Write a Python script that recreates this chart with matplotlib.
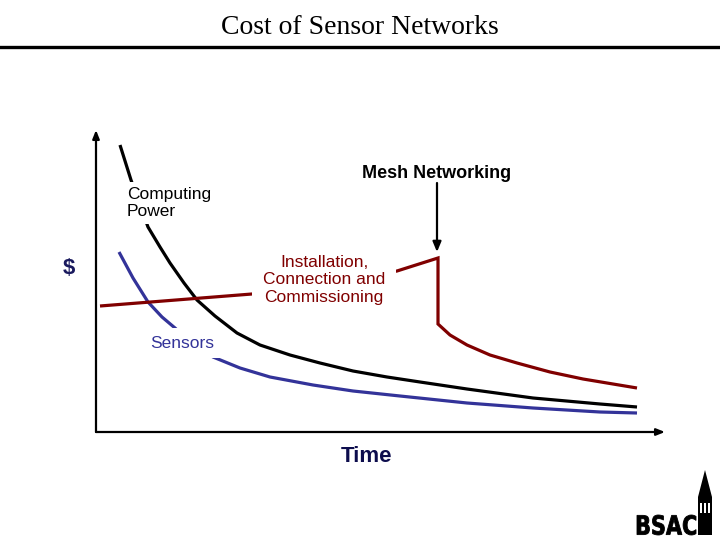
import matplotlib
matplotlib.use("Agg")
import matplotlib.pyplot as plt
import numpy as np
from matplotlib.lines import Line2D
from matplotlib.patches import Polygon, Rectangle, PathPatch
from matplotlib.textpath import TextPath
from matplotlib.font_manager import FontProperties
from matplotlib.transforms import Affine2D

# ---- data (x = time, y = cost, arbitrary units) ----
computing_x = [24, 35, 52, 64, 74, 88, 101, 119, 141, 164, 194, 224, 257,
               291, 324, 371, 437, 504, 541]
computing_y = [287, 252, 205, 185, 169, 149, 132, 116, 99, 87, 77, 69, 61,
               55, 50, 43, 34, 28, 25]

sensors_x = [23, 37, 52, 66, 79, 94, 117, 144, 174, 217, 257, 304, 371, 437,
             504, 541]
sensors_y = [180, 154, 130, 115, 104, 90, 75, 64, 55, 47, 41, 36, 29, 24,
             20, 19]

install_x = [4, 156, 234, 301, 342, 342, 354, 371, 394, 421, 454, 487, 541]
install_y = [126, 138, 149, 161, 174, 108, 97, 87, 77, 69, 60, 53, 44]

mesh_x = 341
title = "Cost of Sensor Networks"

RED = "#800000"
BLUE = "#333399"
SANS = ["Liberation Sans", "DejaVu Sans"]
SERIF = ["Liberation Serif", "DejaVu Serif"]

fig = plt.figure(figsize=(7.2, 5.4), dpi=100)
fig.patch.set_facecolor("white")

# title and rule
fig.text(0.5, 1 - 27 / 540, title, ha="center", va="center",
         fontsize=20, family=SERIF, color="black")
fig.add_artist(Line2D([0, 1], [1 - 47 / 540] * 2, color="black", lw=2.4,
                      transform=fig.transFigure))

ax = fig.add_axes([96 / 720, 108 / 540, 569 / 720, 302 / 540])
ax.set_xlim(0, 569)
ax.set_ylim(0, 302)
ax.axis("off")

# axes arrows
ax.annotate("", xy=(0, 1), xytext=(0, 0), xycoords="axes fraction",
            arrowprops=dict(arrowstyle="-|>,head_length=0.5,head_width=0.2",
                            color="black", lw=1.6, shrinkA=0, shrinkB=0))
ax.annotate("", xy=(1, 0), xytext=(0, 0), xycoords="axes fraction",
            arrowprops=dict(arrowstyle="-|>,head_length=0.5,head_width=0.2",
                            color="black", lw=1.6, shrinkA=0, shrinkB=0))

# curves
ax.plot(computing_x, computing_y, color="black", lw=2.3, zorder=2,
        solid_joinstyle="round", solid_capstyle="butt")
ax.plot(sensors_x, sensors_y, color=BLUE, lw=2.3, zorder=2,
        solid_joinstyle="round", solid_capstyle="butt")
ax.plot(install_x, install_y, color=RED, lw=2.3, zorder=2,
        solid_joinstyle="miter", solid_capstyle="butt")

# labels (white boxes hide parts of the curves)
ax.text(31, 229, "Computing\nPower", ha="left", va="center", fontsize=12.5,
        family=SANS, color="black", linespacing=1.2, zorder=3,
        bbox=dict(boxstyle="square,pad=0.3", fc="white", ec="none"))
ax.text(86, 89, "Sensors", ha="center", va="center", fontsize=12.5,
        family=SANS, color=BLUE, zorder=3,
        bbox=dict(boxstyle="square,pad=0.45", fc="white", ec="none"))
ax.text(228, 152, "Installation,\nConnection and\nCommissioning", ha="center",
        va="center", multialignment="center", fontsize=12.5, family=SANS,
        color=RED, linespacing=1.2, zorder=3,
        bbox=dict(boxstyle="square,pad=0.6", fc="white", ec="none"))

ax.text(mesh_x, 258, "Mesh Networking", ha="center", va="center",
        fontsize=13, fontweight="bold", family=SANS, color="black")
ax.annotate("", xy=(mesh_x, 180), xytext=(mesh_x, 249),
            arrowprops=dict(arrowstyle="-|>,head_length=0.6,head_width=0.25",
                            color="black", lw=1.6, shrinkA=0, shrinkB=0))

ax.text(-27, 164, "$", ha="center", va="center", fontsize=16,
        fontweight="bold", family=SANS, color="#1a1a5e", clip_on=False)
ax.text(271, -25, "Time", ha="center", va="center", fontsize=16,
        fontweight="bold", family=SANS, color="#0d0d4d", clip_on=False)

# logo
lax = fig.add_axes([0, 0, 1, 1], zorder=5)
lax.set_xlim(0, 720)
lax.set_ylim(540, 0)
lax.axis("off")
lax.patch.set_alpha(0)
tp = TextPath((0, 0), "BSAC", size=1,
              prop=FontProperties(family="DejaVu Sans", weight="bold"))
ext = tp.get_extents()
sx = 59 / ext.width
sy = 20 / ext.height
tr = (Affine2D().translate(-ext.x0, -ext.y0).scale(sx, -sy)
      .translate(637, 535))
lax.add_patch(PathPatch(tr.transform_path(tp), fc="black", ec="black",
                        lw=0.6))
lax.add_patch(Rectangle((698, 497), 14, 38, fc="black", ec="none"))
lax.add_patch(Polygon([(698, 497), (712, 497), (705, 470)], closed=True,
                      fc="black", ec="none"))
for wx in (701, 705, 709):
    lax.add_patch(Rectangle((wx - 1, 503), 1.6, 10, fc="white", ec="none"))

fig.savefig("out.png", dpi=100, facecolor="white")
